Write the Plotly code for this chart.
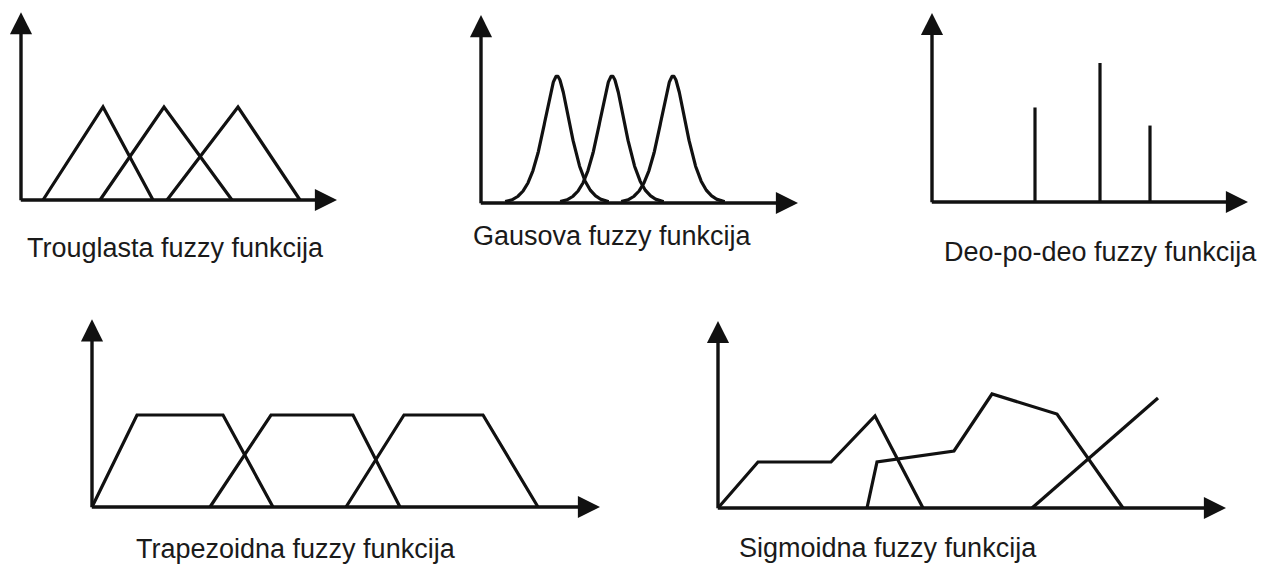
import numpy as np
import plotly.graph_objects as go

# ---------------- data (abstract units) ----------------
# Trouglasta (triangular): left foot, peak, right foot
tri_left = [2.2, 7.9, 14.6]
tri_peak = [8.2, 14.3, 21.7]
tri_right = [13.2, 21.1, 27.9]

# Gausova (gaussian-like bells): centres, spread, tail exponent, rounded core width
gauss_centers = [7.6, 13.1, 19.2]
gauss_spread = [1.85, 1.85, 1.85]
gauss_shape = [1.5, 1.5, 1.5]
gauss_core = [0.6, 0.6, 0.6]

# Deo-po-deo (piecewise / singleton spikes)
spike_x = [10.3, 16.8, 21.8]
spike_h = [0.68, 1.0, 0.55]

# Trapezoidna (trapezoidal): a, b, c, d
trap_a = [0.0, 11.8, 25.4]
trap_b = [4.5, 17.9, 31.2]
trap_c = [13.1, 26.1, 39.1]
trap_d = [18.1, 30.8, 44.6]

# Sigmoidna (free-form polylines)
sigA_x = [0.0, 4.0, 11.3, 15.7, 20.5]
sigA_y = [0.0, 0.46, 0.46, 0.92, 0.0]
sigB_x = [14.9, 15.9, 23.6, 27.4, 33.9, 40.5]
sigB_y = [0.0, 0.46, 0.57, 1.14, 0.94, 0.0]
sigC_x = [31.4, 44.0]
sigC_y = [0.0, 1.10]

labels = ["Trouglasta fuzzy funkcija", "Gausova fuzzy funkcija",
          "Deo-po-deo fuzzy funkcija", "Trapezoidna fuzzy funkcija",
          "Sigmoidna fuzzy funkcija"]

# ---------------- layout geometry ----------------
W, H = 1263, 565
SX = 10.0
# origin px x, origin px y, px per y-unit, x-axis length (units), y-axis length (units)
geo = [
    (21, 200, 93, 31.6, 2.02),
    (481, 203, 127, 31.7, 1.48),
    (932, 202, 139, 31.6, 1.36),
    (92, 507, 92, 50.8, 2.04),
    (718, 508, 100, 50.8, 1.87),
]
label_pos = [(175, 248), (612, 236), (1100, 252), (296, 549), (888, 548)]

LINE = dict(color="#111111", width=3.2)
fig = go.Figure()

layout = {}
for i, (ox, oy, sy, xe, ye) in enumerate(geo, start=1):
    pad = 12
    x0 = max(0.0, ox - pad)
    x1 = min(W, ox + xe * SX + pad)
    ytop = max(0.0, oy - ye * sy - pad)
    ybot = min(H, oy + pad)
    sfx = "" if i == 1 else str(i)
    layout["xaxis" + sfx] = dict(domain=[x0 / W, x1 / W],
                                 range=[(x0 - ox) / SX, (x1 - ox) / SX],
                                 visible=False, fixedrange=True, anchor="y" + sfx)
    layout["yaxis" + sfx] = dict(domain=[1 - ybot / H, 1 - ytop / H],
                                 range=[(oy - ybot) / sy, (oy - ytop) / sy],
                                 visible=False, fixedrange=True, anchor="x" + sfx)


def add_line(xs, ys, i):
    sfx = "" if i == 1 else str(i)
    fig.add_trace(go.Scatter(x=xs, y=ys, mode="lines", line=LINE, xaxis="x" + sfx,
                             yaxis="y" + sfx, showlegend=False, hoverinfo="skip"))


# panel 1: triangles
for a, b, c in zip(tri_left, tri_peak, tri_right):
    add_line([a, b, c], [0, 1, 0], 1)

# panel 2: bells (rounded top, heavier tails)
for c, s, p, w in zip(gauss_centers, gauss_spread, gauss_shape, gauss_core):
    xs = np.linspace(c - 2.8 * s, c + 2.8 * s, 301)
    d = xs - c
    ys = np.exp(-((w / s) ** p) * ((1 + (d / w) ** 2) ** (p / 2) - 1))
    add_line(xs, ys, 2)

# panel 3: spikes
for x, h in zip(spike_x, spike_h):
    add_line([x, x], [0, h], 3)

# panel 4: trapezoids
for a, b, c, d in zip(trap_a, trap_b, trap_c, trap_d):
    add_line([a, b, c, d], [0, 1, 1, 0], 4)

# panel 5: sigmoid-like polylines
add_line(sigA_x, sigA_y, 5)
add_line(sigB_x, sigB_y, 5)
add_line(sigC_x, sigC_y, 5)

# axes with arrow heads
annotations = []
for i, (ox, oy, sy, xe, ye) in enumerate(geo, start=1):
    sfx = "" if i == 1 else str(i)
    common = dict(text="", showarrow=True, arrowhead=2, arrowsize=1.3, arrowwidth=3.4,
                  arrowcolor="#111111", xref="x" + sfx, yref="y" + sfx,
                  axref="x" + sfx, ayref="y" + sfx, standoff=0, startstandoff=0)
    annotations.append(dict(x=xe, y=0, ax=-0.17, ay=0, **common))
    annotations.append(dict(x=0, y=ye, ax=0, ay=-1.7 / sy, **common))

for txt, (px, py) in zip(labels, label_pos):
    annotations.append(dict(text=txt, x=px / W, y=1 - py / H, xref="paper", yref="paper",
                            showarrow=False, xanchor="center", yanchor="middle",
                            font=dict(family="Liberation Sans, Arial, sans-serif", size=27,
                                      color="#1a1a1a")))

fig.update_layout(**layout, annotations=annotations, width=W, height=H,
                  margin=dict(l=0, r=0, t=0, b=0), paper_bgcolor="white",
                  plot_bgcolor="white", showlegend=False)

fig.write_html("out.html", config={"displayModeBar": False},
               post_script="document.body.style.margin='0px';document.body.style.overflow='hidden';")
